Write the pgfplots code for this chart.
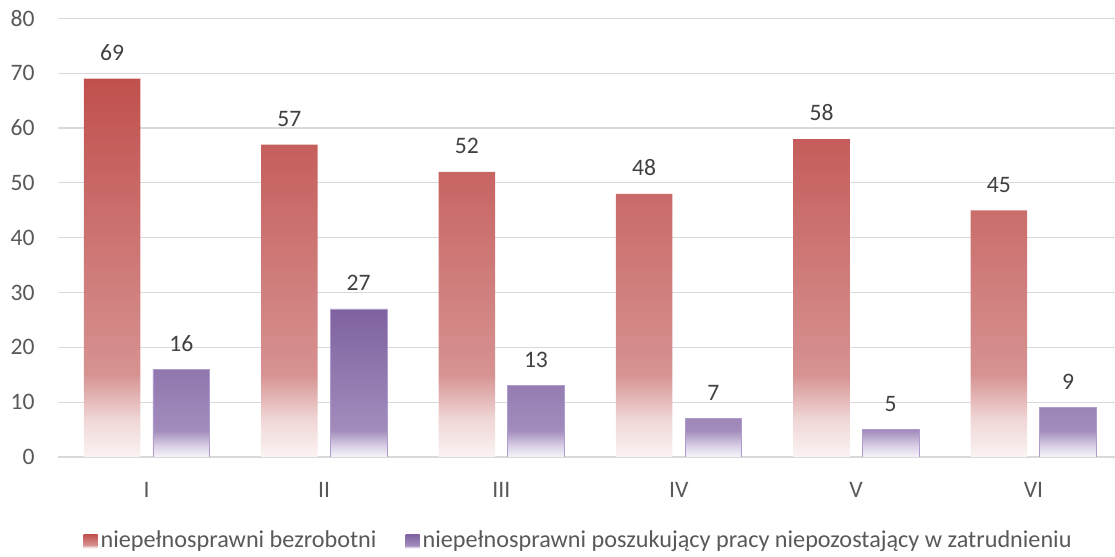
\documentclass[border=0pt]{standalone}
\usepackage{fontspec}
\setmainfont{Carlito}
\usepackage{pgfplots}
\pgfplotsset{compat=1.18}

\definecolor{redT}{RGB}{192,80,77}
\definecolor{redM}{RGB}{214,146,145}
\definecolor{redL}{RGB}{240,214,214}
\definecolor{redB}{RGB}{251,243,243}
\definecolor{purT}{RGB}{126,98,160}
\definecolor{purM}{RGB}{162,140,188}
\definecolor{purL}{RGB}{215,205,228}
\definecolor{purB}{RGB}{246,244,250}
\definecolor{purE}{RGB}{176,156,204}
\definecolor{gridc}{RGB}{217,217,217}
\definecolor{txt}{RGB}{89,89,89}
\definecolor{lbl}{RGB}{64,64,64}

% vertical shadings, bar box maps to 25bp..75bp
\pgfdeclareverticalshading{redfade}{100bp}{color(0bp)=(redB); color(25bp)=(redB); color(30bp)=(redL); color(36bp)=(redM); color(75bp)=(redT); color(100bp)=(redT)}
\pgfdeclareverticalshading{purfade}{100bp}{color(0bp)=(purB); color(25bp)=(purB); color(29bp)=(purL); color(34bp)=(purM); color(75bp)=(purT); color(100bp)=(purT)}

\newcommand{\chfont}{\fontsize{11.8}{14}\selectfont}
\newcommand{\lgfont}{\fontsize{12.1}{14.5}\selectfont}

\begin{document}
\chfont
\begin{tikzpicture}
\path[use as bounding box] (-29pt,-49.6pt) rectangle (528.3pt,228.4pt);
\begin{axis}[
  at={(0,0)}, anchor=south west,
  scale only axis,
  width=528.3pt, height=219.2pt,
  xmin=-0.5, xmax=5.46,
  ymin=0, ymax=80,
  xtick={0,1,2,3,4,5},
  xticklabels={I,II,III,IV,V,VI},
  ytick={0,10,...,80},
  axis x line*=bottom,
  axis y line*=left,
  y axis line style={draw=none},
  x axis line style={draw=gridc, line width=0.6pt},
  ymajorgrids,
  grid style={draw=gridc, line width=0.6pt},
  major tick length=0pt,
  tick label style={text=txt, font=\chfont},
  xticklabel style={inner sep=0pt, anchor=north, yshift=-12.6pt},
  yticklabel style={inner sep=0pt, anchor=east, xshift=-11.5pt},
  /pgf/number format/assume math mode=true,
  ybar,
  bar width=0.319,
  nodes near coords,
  every node near coord/.append style={text=lbl, inner sep=0pt, anchor=south, yshift=8.8pt, font=\chfont},
  legend columns=2,
  legend style={at={(0.493,-0.192)}, anchor=center, draw=none, fill=none,
    font=\lgfont, text=txt,
    /tikz/every even column/.append style={column sep=13pt},
    nodes={inner sep=1.5pt}},
  legend image code/.code={\path[#1, draw=none] (0pt,-3.5pt) rectangle (7pt,3.5pt);},
]
\addplot[draw=none, shade, shading=redfade, bar shift=-0.195] coordinates {
  (0,69) (1,57) (2,52) (3,48) (4,58) (5,45)
};
\addlegendentry{niepełnosprawni bezrobotni}
\addplot[draw=purE, line width=0.4pt, shade, shading=purfade, bar shift=0.195] coordinates {
  (0,16) (1,27) (2,13) (3,7) (4,5) (5,9)
};
\addlegendentry{niepełnosprawni poszukujący pracy niepozostający w zatrudnieniu}
\end{axis}
\end{tikzpicture}
\end{document}
